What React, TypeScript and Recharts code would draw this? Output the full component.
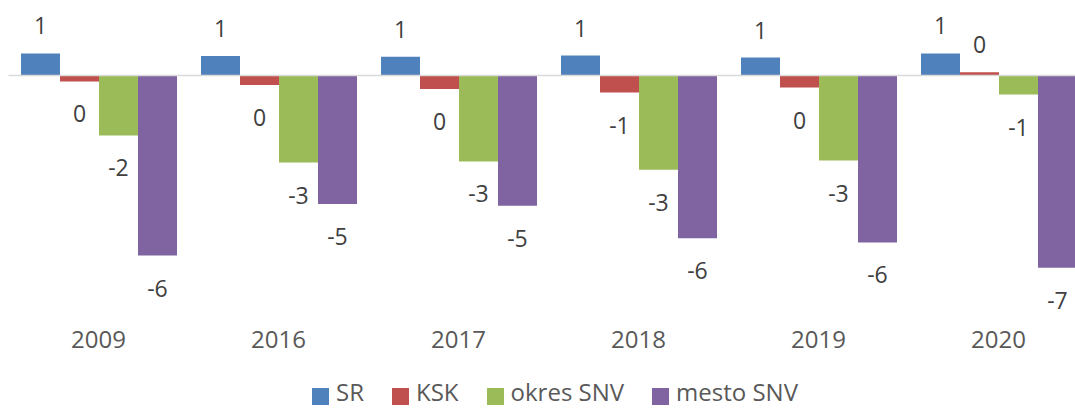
import React from 'react';
import { BarChart, Bar, XAxis, YAxis, Legend, ReferenceLine, LabelList } from 'recharts';

const categories = ['2009', '2016', '2017', '2018', '2019', '2020'];
const srValues = [0.79, 0.70, 0.67, 0.71, 0.64, 0.79];
const kskValues = [-0.21, -0.34, -0.48, -0.61, -0.43, 0.12];
const okresValues = [-2.14, -3.11, -3.07, -3.37, -3.04, -0.68];
const mestoValues = [-6.43, -4.59, -4.65, -5.81, -5.96, -6.87];

const seriesNames = ['SR', 'KSK', 'okres SNV', 'mesto SNV'];
const seriesColors = ['#4f81bd', '#c0504d', '#9bbb59', '#8064a2'];

const data = categories.map((year, i) => ({
  year,
  sr: srValues[i],
  ksk: kskValues[i],
  okres: okresValues[i],
  mesto: mestoValues[i],
}));

const FONT = '"Open Sans", "Noto Sans", sans-serif';

const fmt = (v: number) => {
  const r = Math.round(v);
  return r === 0 ? '0' : String(r);
};

const renderLabel = (props: any) => {
  const vb = props.viewBox || {};
  const x = props.x ?? vb.x;
  const y = props.y ?? vb.y;
  const width = props.width ?? vb.width;
  const height = props.height ?? vb.height;
  const v = Number(props.value);
  const top = Math.min(y, y + height);
  const bottom = Math.max(y, y + height);
  const cy = v >= 0 ? top - 28 : bottom + 32;
  return (
    <text
      x={x + width / 2}
      y={cy}
      textAnchor="middle"
      dominantBaseline="central"
      fontSize={23}
      fill="#404040"
      fontFamily={FONT}
    >
      {fmt(v)}
    </text>
  );
};

const CategoryTick = (props: any) => {
  const { x, y, payload } = props;
  return (
    <text
      x={x}
      y={y + 38.5}
      textAnchor="middle"
      dominantBaseline="central"
      fontSize={24}
      fill="#595959"
      fontFamily={FONT}
    >
      {payload.value}
    </text>
  );
};

const renderLegend = () => {
  return (
    <div
      style={{
        display: 'flex',
        justifyContent: 'center',
        alignItems: 'center',
        height: 33,
        paddingLeft: 13,
        fontFamily: FONT,
        fontSize: 24,
        color: '#595959',
        lineHeight: '33px',
      }}
    >
      {seriesNames.map((name, i) => (
        <div
          key={name}
          style={{ display: 'flex', alignItems: 'center', marginRight: i < seriesNames.length - 1 ? 28 : 0 }}
        >
          <div
            style={{
              width: 17,
              height: 17,
              background: seriesColors[i],
              marginRight: 7,
              position: 'relative',
              top: 5,
            }}
          />
          <span>{name}</span>
        </div>
      ))}
    </div>
  );
};

export default function App() {
  return (
    <div
      style={{
        position: 'fixed',
        left: 0,
        top: 0,
        width: 1075,
        height: 408,
        overflow: 'hidden',
        background: '#ffffff',
      }}
    >
      <BarChart
        width={1100}
        height={408}
        data={data}
        margin={{ top: 19.5, right: 11.5, bottom: 0, left: 8.5 }}
        barCategoryGap={12.5}
        barGap={0}
        style={{ fontFamily: FONT }}
      >
        <XAxis
          dataKey="year"
          axisLine={false}
          tickLine={false}
          tickSize={0}
          tickMargin={0}
          interval={0}
          height={75.5}
          tick={<CategoryTick />}
        />
        <YAxis hide domain={[-8, 2]} allowDataOverflow />
        <Legend verticalAlign="bottom" content={renderLegend} />
        <Bar dataKey="sr" name={seriesNames[0]} fill={seriesColors[0]} isAnimationActive={false}>
          <LabelList dataKey="sr" content={renderLabel} />
        </Bar>
        <Bar dataKey="ksk" name={seriesNames[1]} fill={seriesColors[1]} isAnimationActive={false}>
          <LabelList dataKey="ksk" content={renderLabel} />
        </Bar>
        <Bar dataKey="okres" name={seriesNames[2]} fill={seriesColors[2]} isAnimationActive={false}>
          <LabelList dataKey="okres" content={renderLabel} />
        </Bar>
        <Bar dataKey="mesto" name={seriesNames[3]} fill={seriesColors[3]} isAnimationActive={false}>
          <LabelList dataKey="mesto" content={renderLabel} />
        </Bar>
        <ReferenceLine y={0} stroke="#d9d9d9" strokeWidth={1.5} />
      </BarChart>
    </div>
  );
}
